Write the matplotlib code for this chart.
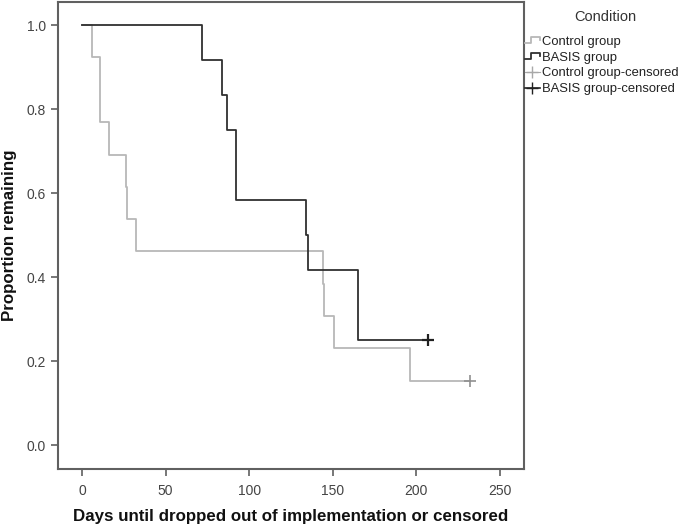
import matplotlib
matplotlib.use('Agg')

import matplotlib.pyplot as plt
from matplotlib.legend_handler import HandlerBase
from matplotlib.lines import Line2D

plt.rcParams['font.family'] = ['Liberation Sans', 'DejaVu Sans']

# Kaplan-Meier style data (days, proportion remaining)
control_days = [0, 6, 11, 16, 26, 27, 32, 144, 145, 151, 196, 232]
control_surv = [1.0, 0.923, 0.769, 0.692, 0.615, 0.538, 0.462, 0.385, 0.308, 0.231, 0.154, 0.154]
control_censor_day = [232]
control_censor_surv = [0.154]

basis_days = [0, 72, 84, 87, 92, 134, 135, 165, 207]
basis_surv = [1.0, 0.917, 0.833, 0.75, 0.583, 0.5, 0.417, 0.25, 0.25]
basis_censor_day = [207]
basis_censor_surv = [0.25]

labels = ['Control group', 'BASIS group', 'Control group-censored', 'BASIS group-censored']
x_ticks = [0, 50, 100, 150, 200, 250]
y_ticks = [0.0, 0.2, 0.4, 0.6, 0.8, 1.0]

c_control = '#b8b8b8'
c_basis = '#303030'
c_frame = '#606060'


class StepHandler(HandlerBase):
    def create_artists(self, legend, orig_handle, xdescent, ydescent,
                       width, height, fontsize, trans):
        y0 = -ydescent + 0.2 * height
        y1 = -ydescent + 0.8 * height
        xs = [-xdescent, 0.4 * width, 0.4 * width, width, width]
        ys = [y0, y0, y1, y1, 0.5 * (y0 + y1)]
        ln = Line2D(xs, ys, color=orig_handle.get_color(),
                    lw=orig_handle.get_linewidth(), transform=trans)
        return [ln]


fig = plt.figure(figsize=(6.85, 5.28), dpi=100)
ax = fig.add_axes([58 / 685, 1 - 469 / 528, (524 - 58) / 685, (469 - 2) / 528])

l1, = ax.step(control_days, control_surv, where='post', color=c_control, lw=1.3)
l2, = ax.step(basis_days, basis_surv, where='post', color=c_basis, lw=1.3)
l3, = ax.plot(control_censor_day, control_censor_surv, ls='none', marker='+',
              ms=9, mew=1.2, color='#909090')
l4, = ax.plot(basis_censor_day, basis_censor_surv, ls='none', marker='+',
              ms=9, mew=1.6, color='#202020')

ax.set_xlim(-14.4, 264.4)
ax.set_ylim(-0.056, 1.055)
ax.set_xticks(x_ticks)
ax.set_yticks(y_ticks)
ax.set_yticklabels(['%.1f' % v for v in y_ticks])
ax.tick_params(direction='out', length=5, width=1.2, color=c_frame,
               labelsize=10, labelcolor='#444444')
ax.tick_params(axis='x', pad=6)
for s in ax.spines.values():
    s.set_color(c_frame)
    s.set_linewidth(1.5)

ax.set_xlabel('Days until dropped out of implementation or censored',
              fontsize=12.2, fontweight='bold', labelpad=8, color='#111111')
ax.set_ylabel('Proportion remaining', fontsize=12.2, fontweight='bold',
              labelpad=7, color='#111111')

fig.text(605 / 685, 1 - 17 / 528, 'Condition', ha='center', va='center',
         fontsize=10.5, color='#333333')

h3 = Line2D([], [], color='#a8a8a8', marker='+', ms=9, lw=0.8)
h4 = Line2D([], [], color='#202020', marker='+', ms=9, lw=1.2)
leg = fig.legend([l1, l2, h3, h4], labels, loc='upper left',
                 bbox_to_anchor=(522 / 685, 1 - 33 / 528),
                 frameon=False, fontsize=9.4,
                 handlelength=1.2, handletextpad=0.1, labelspacing=0.28,
                 borderpad=0.2, borderaxespad=0,
                 handler_map={l1: StepHandler(), l2: StepHandler()})
for t in leg.get_texts():
    t.set_color('#222222')

fig.savefig('out.png', dpi=100)
